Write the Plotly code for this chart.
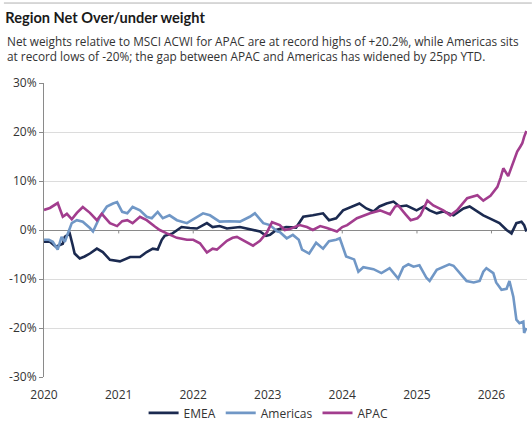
import plotly.graph_objects as go

# ---------------- data ----------------
apac_dates = ["2020-01-01","2020-01-30","2020-03-08","2020-04-02","2020-04-22","2020-05-16","2020-06-10","2020-07-09",
              "2020-08-13","2020-09-16","2020-10-10","2020-11-19","2020-12-24","2021-01-18","2021-02-12","2021-03-10",
              "2021-04-15","2021-05-18","2021-06-27","2021-07-21","2021-08-25","2021-10-13","2021-12-01","2022-01-01",
              "2022-02-03","2022-03-09","2022-04-06","2022-04-27","2022-06-15","2022-07-13","2022-08-03","2022-09-21",
              "2022-10-21","2022-11-24","2022-12-28","2023-01-22","2023-03-01","2023-03-25","2023-04-19","2023-06-06",
              "2023-07-12","2023-08-10","2023-09-15","2023-10-18","2023-12-06","2024-01-01","2024-01-25","2024-03-13",
              "2024-05-16","2024-07-04","2024-08-22","2024-09-16","2024-10-01","2024-11-06","2024-12-01","2025-01-03",
              "2025-01-18","2025-02-21","2025-03-22","2025-05-10","2025-06-13","2025-07-16","2025-09-04","2025-10-24",
              "2025-11-22","2025-12-27","2026-01-30","2026-02-14","2026-02-28","2026-03-24","2026-04-18","2026-05-07",
              "2026-05-22","2026-06-01","2026-06-10","2026-06-21"]
apac_vals = [4.1,4.5,5.5,2.7,3.3,2.2,3.5,4.7,
             3.5,2.0,3.3,1.4,0.8,1.8,2.0,1.4,
             2.7,2.0,0.7,0.0,-0.7,-1.6,-2.0,-2.0,
             -2.7,-4.6,-3.8,-4.0,-2.2,-1.6,-1.4,-2.6,
             -3.2,-2.2,-0.5,1.6,1.0,0.0,0.2,1.0,
             0.6,0.0,0.8,0.4,-0.3,0.6,1.0,2.4,
             3.4,4.0,3.2,4.8,5.0,3.2,2.0,2.4,
             3.0,6.0,5.0,4.0,3.0,4.0,6.5,7.1,
             6.0,7.0,8.8,10.6,12.6,11.0,13.7,16.0,
             17.0,17.7,19.0,20.2]

emea_dates = ["2020-01-01","2020-01-30","2020-02-28","2020-04-02","2020-04-12","2020-05-06","2020-05-20","2020-05-30",
              "2020-06-24","2020-07-18","2020-08-13","2020-09-16","2020-10-15","2020-11-19","2021-01-07","2021-02-01",
              "2021-02-26","2021-04-15","2021-05-18","2021-06-17","2021-07-11","2021-07-31","2021-08-14","2021-09-22",
              "2021-11-05","2021-12-15","2022-01-19","2022-03-09","2022-04-06","2022-05-10","2022-06-15","2022-08-18",
              "2022-10-21","2022-11-24","2022-12-24","2023-01-12","2023-02-12","2023-04-01","2023-05-20","2023-06-24",
              "2023-08-10","2023-09-29","2023-10-28","2023-12-02","2024-01-05","2024-02-24","2024-03-25","2024-04-28",
              "2024-06-02","2024-07-01","2024-08-05","2024-09-08","2024-10-08","2024-11-11","2024-12-30","2025-02-03",
              "2025-03-04","2025-04-08","2025-05-10","2025-06-29","2025-08-17","2025-09-16","2025-10-20","2025-11-22",
              "2026-01-10","2026-02-09","2026-03-16","2026-04-09","2026-05-03","2026-05-28","2026-06-10","2026-06-21"]
emea_vals = [-2.4,-2.4,-3.4,-2.8,-1.4,-0.7,-3.0,-4.8,
             -5.8,-5.4,-4.8,-3.8,-4.5,-6.1,-6.4,-6.0,
             -5.5,-5.5,-4.5,-3.8,-4.0,-2.0,-1.2,-0.7,
             0.6,0.4,0.3,1.4,0.6,0.8,0.3,0.6,
             0.0,-0.3,-1.2,-1.0,0.0,0.6,0.5,2.7,
             3.0,3.4,2.0,2.4,4.0,4.8,5.4,4.4,
             3.8,4.8,5.4,5.8,4.8,5.0,4.0,4.8,
             4.0,3.4,3.8,3.0,4.4,4.8,3.8,3.0,
             2.0,1.4,0.0,-0.7,1.4,1.7,1.0,-0.3]

amer_dates = ["2020-01-01","2020-01-25","2020-02-13","2020-03-08","2020-03-27","2020-04-12","2020-04-27","2020-05-16",
              "2020-06-10","2020-07-09","2020-08-13","2020-08-28","2020-10-01","2020-11-04","2020-12-04","2020-12-24",
              "2021-01-18","2021-02-12","2021-03-10","2021-04-15","2021-05-18","2021-06-12","2021-07-11","2021-08-05",
              "2021-09-07","2021-10-13","2021-12-01","2022-01-19","2022-02-18","2022-03-24","2022-05-10","2022-06-29",
              "2022-08-18","2022-10-05","2022-10-30","2022-12-10","2023-01-12","2023-02-17","2023-03-01","2023-04-04",
              "2023-05-04","2023-06-02","2023-06-18","2023-07-23","2023-08-26","2023-09-29","2023-10-28","2023-12-02",
              "2023-12-20","2024-01-20","2024-02-28","2024-03-20","2024-04-13","2024-06-02","2024-07-11","2024-08-20",
              "2024-10-01","2024-10-26","2024-11-20","2024-12-15","2025-01-13","2025-02-17","2025-03-04","2025-04-08",
              "2025-05-10","2025-06-08","2025-06-29","2025-07-28","2025-09-01","2025-10-06","2025-11-04","2025-11-22",
              "2025-12-07","2026-01-10","2026-01-24","2026-02-19","2026-03-16","2026-03-30","2026-04-18","2026-05-03",
              "2026-05-18","2026-06-06","2026-06-10","2026-06-21"]
amer_vals = [-2.0,-2.0,-2.4,-4.0,-1.4,-2.4,-0.7,1.4,
             2.0,1.7,0.4,-0.3,2.7,4.8,5.4,5.7,
             3.7,3.4,4.7,4.0,2.7,2.4,3.7,2.4,
             3.0,2.0,1.4,2.7,3.4,3.0,1.7,1.8,
             1.7,2.7,3.4,1.4,1.0,-0.3,-0.4,-1.7,
             -1.0,-2.0,-4.0,-4.8,-2.6,-3.8,-2.3,-2.0,
             -1.7,-5.4,-6.0,-8.5,-7.6,-8.0,-8.8,-7.8,
             -9.9,-7.6,-7.0,-7.5,-7.2,-9.8,-10.4,-8.1,
             -7.5,-7.0,-7.3,-8.8,-10.4,-10.7,-10.4,-8.5,
             -7.8,-8.8,-10.7,-12.2,-12.0,-10.4,-13.6,-18.3,
             -19.0,-18.7,-21.0,-20.0]

y_ticks = [-30, -20, -10, 0, 10, 20, 30]
y_tick_labels = ["-30%", "-20%", "-10%", "0%", "10%", "20%", "30%"]
x_ticks = ["2020-01-01", "2021-01-01", "2022-01-01", "2023-01-01", "2024-01-01", "2025-01-01", "2026-01-01"]
x_tick_labels = ["2020", "2021", "2022", "2023", "2024", "2025", "2026"]

# ---------------- style ----------------
C_EMEA = "#1b2a50"
C_AMER = "#7097c6"
C_APAC = "#a23d8e"
FONT = "Open Sans"
HFONT = "Lato"

fig = go.Figure()
fig.add_trace(go.Scatter(x=emea_dates, y=emea_vals, mode="lines", name="EMEA",
                         line=dict(color=C_EMEA, width=2.6)))
fig.add_trace(go.Scatter(x=amer_dates, y=amer_vals, mode="lines", name="Americas",
                         line=dict(color=C_AMER, width=2.6)))
fig.add_trace(go.Scatter(x=apac_dates, y=apac_vals, mode="lines", name="APAC",
                         line=dict(color=C_APAC, width=2.6)))

fig.update_layout(
    width=532, height=423,
    margin=dict(l=44, r=5, t=83, b=46, autoexpand=False),
    paper_bgcolor="white", plot_bgcolor="white",
    font=dict(family=FONT, size=12, color="#333333"),
    showlegend=True,
    legend=dict(orientation="h", x=0.465, xanchor="center", yref="container", y=0.024, yanchor="middle",
                font=dict(size=12, color="#333333"), itemwidth=30,
                traceorder="normal", bgcolor="rgba(0,0,0,0)"),
    xaxis=dict(type="date", range=["2020-01-01", "2026-06-24"],
               tickmode="array", tickvals=x_ticks, ticktext=x_tick_labels,
               showgrid=False, showline=False, zeroline=False, ticks="",
               ticklabelstandoff=9,
               tickfont=dict(size=12, color="#333333")),
    yaxis=dict(range=[-30, 30], tickmode="array", tickvals=y_ticks, ticktext=y_tick_labels,
               showgrid=True, gridcolor="#dcdcdc", gridwidth=1,
               zeroline=True, zerolinecolor="#8a8a8a", zerolinewidth=1,
               showline=True, linecolor="#8a8a8a", linewidth=1,
               ticks="outside", ticklen=4, tickcolor="#8a8a8a",
               tickfont=dict(size=12, color="#333333")),
    title=dict(text="<b>Region Net Over/under weight</b>", x=0.01, xanchor="left",
               y=0.957, yanchor="middle", font=dict(size=14.6, color="#1a1a1a", family=HFONT)),
)

# small tick marks on the zero line
for t in x_ticks[1:]:
    fig.add_shape(type="line", xref="x", yref="y", x0=t, x1=t, y0=0, y1=-0.7,
                  line=dict(color="#8a8a8a", width=1), layer="below")

# top rule
fig.add_shape(type="line", xref="paper", yref="paper", x0=-0.083, x1=1.01, y0=1.272, y1=1.272,
              line=dict(color="#b0b0b0", width=1))

fig.add_annotation(
    text="Net weights relative to MSCI ACWI for APAC are at record highs of +20.2%, while Americas sits<br>"
         "at record lows of -20%; the gap between APAC and Americas has widened by 25pp YTD.",
    xref="paper", yref="paper", x=-0.081, y=1.119, xanchor="left", yanchor="middle",
    align="left", showarrow=False, font=dict(size=11.8, color="#333333", family=FONT))

fig.write_html("out.html")
